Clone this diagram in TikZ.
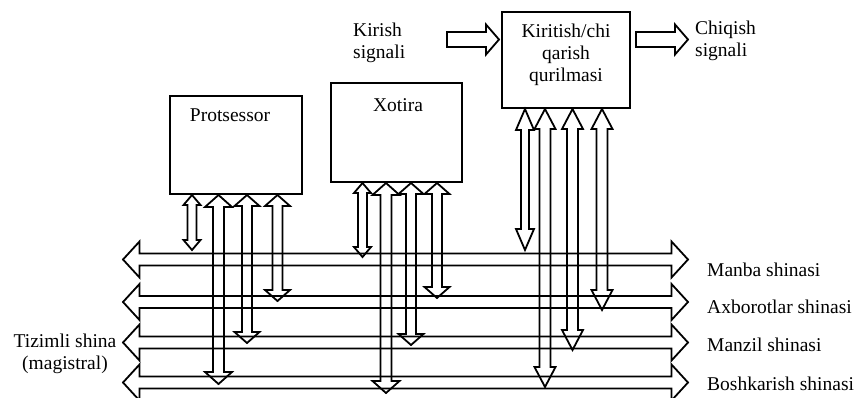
\documentclass[tikz,border=0pt]{standalone}
\usepackage{fontspec}
\setmainfont{Liberation Serif}
\usetikzlibrary{calc}
\newcommand{\diagfont}{\fontsize{19.5}{22}\selectfont}
\tikzset{
  shaftw/.store in=\shaftw, headw/.store in=\headw, headl/.store in=\headl, reach/.store in=\reach,
  shaftw=5pt, headw=12pt, headl=11pt, reach=0pt,
  unitBox/.style={draw, line width=2pt, inner sep=0pt},
  boxTitle/.style={font=\diagfont, inner sep=0pt, align=center},
  signalText/.style={font=\diagfont, inner sep=0pt, align=left},
  busLabel/.style={font=\diagfont, inner sep=0pt, anchor=west},
  % bus: hollow double arrow between two coordinates
  busArrow/.style={draw, line width=1.8pt, line join=miter, shaftw=6pt, headw=18pt, headl=16.5pt,
    to path={let \p1=(\tikztostart), \p2=(\tikztotarget) in
      (\x1,\y1) -- (\x1+\headl,\y1+\headw) -- (\x1+\headl,\y1+\shaftw) -- (\x2-\headl,\y1+\shaftw)
      -- (\x2-\headl,\y1+\headw) -- (\x2,\y1) -- (\x2-\headl,\y1-\headw) -- (\x2-\headl,\y1-\shaftw)
      -- (\x1+\headl,\y1-\shaftw) -- (\x1+\headl,\y1-\headw) -- cycle}},
  % vertical hollow double arrow from a unit down to a bus
  busLink/.style={draw, line width=1.8pt, line join=miter,
    to path={let \p1=(\tikztostart), \p2=(\tikztotarget), \p3=(\x1,{\y2-(\reach)}) in
      (\x1,\y1) -- (\x1+\headw,\y1-\headl) -- (\x1+\shaftw,\y1-\headl) -- (\x1+\shaftw,\y3+\headl)
      -- (\x1+\headw,\y3+\headl) -- (\x1,\y3) -- (\x1-\headw,\y3+\headl) -- (\x1-\shaftw,\y3+\headl)
      -- (\x1-\shaftw,\y1-\headl) -- (\x1-\headw,\y1-\headl) -- cycle}},
  thinLink/.style={busLink, shaftw=4.5pt, headw=8.5pt, headl=10pt},
  midLink/.style={busLink, shaftw=5pt, headw=12.5pt, headl=11pt},
  wideLink/.style={busLink, shaftw=5.5pt, headw=13.5pt, headl=12pt},
  ioLink/.style={busLink, shaftw=5.5pt, headw=10.5pt, headl=20pt},
  ioThinLink/.style={busLink, shaftw=4pt, headw=9pt, headl=21pt},
  % hollow single arrow for the outside signals
  signalArrow/.style={draw, line width=1.8pt, line join=miter, shaftw=7.5pt, headw=15pt, headl=13pt,
    to path={let \p1=(\tikztostart), \p2=(\tikztotarget) in
      (\x1,\y1+\shaftw) -- (\x2-\headl,\y1+\shaftw) -- (\x2-\headl,\y1+\headw) -- (\x2,\y1)
      -- (\x2-\headl,\y1-\headw) -- (\x2-\headl,\y1-\shaftw) -- (\x1,\y1-\shaftw) -- cycle}}
}
\begin{document}
\begin{tikzpicture}[x=1pt, y=-1pt]
  \useasboundingbox (0,0) rectangle (858,397);

  % units
  \node[unitBox, minimum width=132pt, minimum height=98pt,
    label={[boxTitle, anchor=north, xshift=-6pt, yshift=-14pt]north:Protsessor}] (proc) at (236,145) {};
  \node[unitBox, minimum width=131pt, minimum height=99pt,
    label={[boxTitle, anchor=north, xshift=1.5pt, yshift=-16pt]north:Xotira}] (mem) at (396.5,132.5) {};
  \node[unitBox, minimum width=128pt, minimum height=96pt,
    label={[boxTitle, anchor=north, yshift=-13pt]north:Kiritish/chi\\qarish\\qurilmasi}] (io) at (566,60) {};

  \node[signalText, anchor=west] (kirish) at (353,43) {Kirish\\signali};
  \node[signalText, anchor=west] (chiqish) at (695,41) {Chiqish\\signali};
  \draw[signalArrow] ($(io.west |- kirish.east)+(-54,-3.5)$) to ($(io.west |- kirish.east)+(-2,-3.5)$);
  \draw[signalArrow] ($(io.east |- chiqish.west)+(5,-1.5)$) to ($(chiqish.west)+(-7,-1.5)$);

  % system bus
  \coordinate (manbaL) at (123,259.5);  \coordinate (manbaR) at (688,259.5);
  \coordinate (axbL) at (123,302);      \coordinate (axbR) at (688,302);
  \coordinate (manzilL) at (123,342.5); \coordinate (manzilR) at (688,342.5);
  \coordinate (boshkL) at (123,382.5);  \coordinate (boshkR) at (688,382.5);
  \draw[busArrow] (manbaL) to (manbaR);
  \draw[busArrow] (axbL) to (axbR);
  \draw[busArrow] (manzilL) to (manzilR);
  \draw[busArrow] (boshkL) to (boshkR);

  \node[busLabel] (manbaLbl) at (707,270) {Manba shinasi};
  \node[busLabel] (axbLbl) at (707,306.5) {Axborotlar shinasi};
  \node[busLabel] (manzilLbl) at (707,345) {Manzil shinasi};
  \node[busLabel] (boshkLbl) at (707,383.5) {Boshkarish shinasi};
  \node[signalText, align=center] (sysBus) at (65,354) {Tizimli shina\\(magistral)};

  % links from the units to the bus lines
  \draw[thinLink, reach=-9.5pt] ([xshift=-44pt]proc.south) to (manbaL);
  \draw[wideLink, reach=1.5pt] ([xshift=-17.5pt]proc.south) to (boshkL);
  \draw[midLink, reach=0.5pt] ([xshift=11pt]proc.south) to (manzilL);
  \draw[midLink, reach=-1pt] ([xshift=41.5pt]proc.south) to (axbL);

  \draw[thinLink, reach=-2.5pt] ([xshift=-34pt]mem.south) to (manbaL);
  \draw[wideLink, reach=10.5pt] ([xshift=-10.5pt]mem.south) to (boshkL);
  \draw[midLink, reach=2.5pt] ([xshift=14.5pt]mem.south) to (manzilL);
  \draw[midLink, reach=-4pt] ([xshift=40.5pt]mem.south) to (axbL);

  \draw[ioThinLink, reach=-9.5pt] ([xshift=-41pt]io.south) to (manbaL);
  \draw[ioLink, reach=4.5pt] ([xshift=-21pt]io.south) to (boshkL);
  \draw[ioLink, reach=7.5pt] ([xshift=6.5pt]io.south) to (manzilL);
  \draw[ioLink, reach=8pt] ([xshift=36pt]io.south) to (axbL);
\end{tikzpicture}
\end{document}
